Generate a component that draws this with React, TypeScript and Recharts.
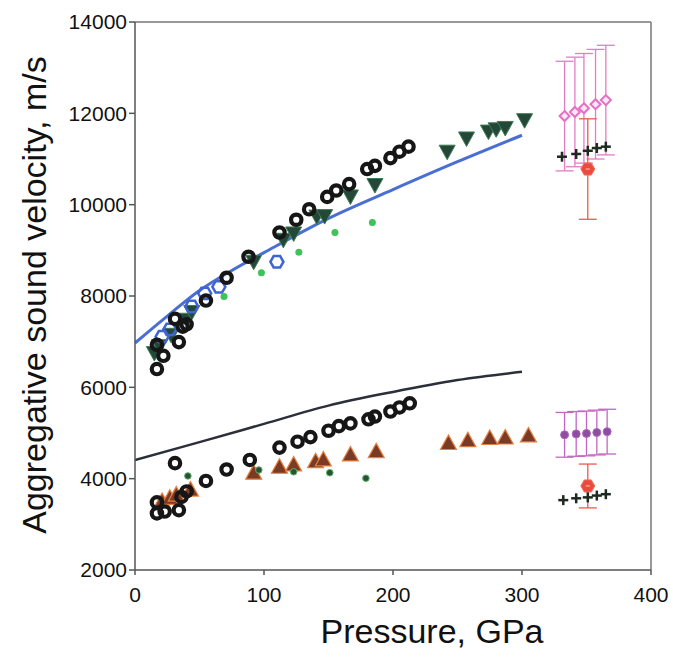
import React from 'react';
import { ComposedChart, Scatter, Line, XAxis, YAxis, ErrorBar, ReferenceLine } from 'recharts';

type Pt = [number, number];

// Pressure (GPa), velocity (m/s)
const upperRings: Pt[] = [[17,6400],[22,6690],[17,6930],[34,6990],[40,7380],[31,7500],[37,7330],[55,7900],[71,8400],[88,8860],[112,9390],[125,9670],[135,9900],[149,10170],[156,10310],[166,10450],[180,10780],[186,10850],[198,11020],[205,11160],[212,11270]];
const lowerRings: Pt[] = [[17,3240],[23,3280],[17,3480],[34,3310],[36,3600],[40,3720],[31,4340],[55,3950],[71,4200],[89,4410],[112,4680],[126,4810],[136,4910],[150,5050],[158,5150],[167,5210],[181,5300],[186,5360],[198,5470],[205,5560],[213,5650]];
const greenTriangles: Pt[] = [[15,6750],[19,6900],[28,7150],[40,7480],[44,7650],[92,8750],[115,9230],[123,9370],[141,9740],[147,9750],[167,10180],[186,10430],[242,11160],[257,11450],[274,11600],[280,11650],[287,11680],[302,11850]];
const blueHexagons: Pt[] = [[21,7110],[27,7270],[44,7770],[54,8060],[65,8200],[110,8750]];
const greenDots: Pt[] = [[69,7990],[98,8510],[127,8960],[155,9390],[184,9610]];
const darkDots: Pt[] = [[41,4060],[96,4190],[123,4150],[151,4130],[179,4010]];
const brownTriangles: Pt[] = [[21,3500],[27,3570],[32,3640],[43,3750],[92,4120],[112,4250],[123,4300],[140,4370],[146,4410],[167,4520],[187,4590],[243,4770],[258,4830],[275,4880],[287,4890],[305,4935]];
const pinkDiamonds: Pt[] = [[333,11940],[341,12030],[348,12110],[357,12200],[365,12290]];
const pinkErr = 1200;
const upperPlus: Pt[] = [[331,11050],[342,11110],[351,11180],[358,11240],[365,11270]];
const upperRed: Pt[] = [[351,10780]];
const upperRedErr = 1100;
const purpleDots: Pt[] = [[333,4960],[342,4980],[350,4990],[358,5010],[366,5030]];
const purpleErr = 490;
const lowerRed: Pt[] = [[351,3840]];
const lowerRedErr = 480;
const lowerPlus: Pt[] = [[332,3530],[342,3570],[351,3590],[358,3630],[365,3660]];
const upperCurve: Pt[] = [[0,6970],[25,7560],[50,8120],[75,8560],[100,8950],[150,9700],[200,10330],[250,10940],[300,11520]];
const lowerCurve: Pt[] = [[0,4410],[50,4800],[100,5200],[150,5600],[200,5900],[250,6160],[300,6340]];

const xTicks = [0, 100, 200, 300, 400];
const yTicks = [2000, 4000, 6000, 8000, 10000, 12000, 14000];

const toData = (pts: Pt[], err?: number) => pts.map(([p, v]) => (err === undefined ? { p, v } : { p, v, err }));

const FONT = '"Liberation Sans", Arial, sans-serif';

const Ring = (props: any) => (
  <circle cx={props.cx} cy={props.cy} r={5.2} fill="none" stroke="#161616" strokeWidth={4.2} />
);
const DownTri = (props: any) => {
  const { cx, cy } = props;
  return <path d={`M${cx - 8},${cy - 6.5} L${cx + 8},${cy - 6.5} L${cx},${cy + 8} Z`} fill="#24473a" stroke="#3d7d52" strokeWidth={1} />;
};
const UpTri = (props: any) => {
  const { cx, cy } = props;
  return <path d={`M${cx - 8},${cy + 6} L${cx + 8},${cy + 6} L${cx},${cy - 8.5} Z`} fill="#7a3a24" stroke="#e58040" strokeWidth={1.2} />;
};
const hexPath = (cx: number, cy: number, r: number) => {
  const pts: string[] = [];
  for (let i = 0; i < 6; i++) {
    const a = (Math.PI / 3) * i;
    pts.push(`${cx + r * Math.cos(a)},${cy + r * Math.sin(a)}`);
  }
  return `M${pts.join(' L')} Z`;
};
const BlueHex = (props: any) => (
  <path d={hexPath(props.cx, props.cy, 6.5)} fill="none" stroke="#3e64d6" strokeWidth={2.5} />
);
const RedHex = (props: any) => (
  <g>
    <path d={hexPath(props.cx, props.cy, 7)} fill="#ec4a3c" stroke="#f07060" strokeWidth={1} />
    <line x1={props.cx - 2} y1={props.cy} x2={props.cx + 2} y2={props.cy} stroke="#ffd0c8" strokeWidth={1} />
  </g>
);
const GreenDot = (props: any) => <circle cx={props.cx} cy={props.cy} r={3.5} fill="#3ec25a" />;
const DarkDot = (props: any) => <circle cx={props.cx} cy={props.cy} r={3.3} fill="#2d4f38" stroke="#5bb565" strokeWidth={1} />;
const Diamond = (props: any) => {
  const { cx, cy } = props;
  return <path d={`M${cx},${cy - 5} L${cx + 5},${cy} L${cx},${cy + 5} L${cx - 5},${cy} Z`} fill="#fbe6f4" stroke="#e46fc4" strokeWidth={2} />;
};
const PurpleDot = (props: any) => <circle cx={props.cx} cy={props.cy} r={4} fill="#8c4f9e" stroke="#b466c8" strokeWidth={1} />;
const Plus = (props: any) => {
  const { cx, cy } = props;
  return (
    <g stroke="#1d2a20" strokeWidth={2.5}>
      <line x1={cx - 5} y1={cy} x2={cx + 5} y2={cy} />
      <line x1={cx} y1={cy - 5} x2={cx} y2={cy + 5} />
    </g>
  );
};

const YLabel = () => (
  <text x={34} y={295} transform="rotate(-90 34 295)" textAnchor="middle" dominantBaseline="central" fontSize={34} fontFamily={FONT} fill="#111">
    Aggregative sound velocity, m/s
  </text>
);
const XLabel = () => (
  <text x={432} y={631} textAnchor="middle" dominantBaseline="central" fontSize={34} fontFamily={FONT} fill="#111">
    Pressure, GPa
  </text>
);

export default function App() {
  return (
    <div style={{ position: 'absolute', left: 0, top: 0, background: '#fff' }}>
      <ComposedChart width={673} height={657} margin={{ top: 22, right: 22, bottom: 7, left: 0 }}>
        <XAxis
          type="number"
          dataKey="p"
          domain={[0, 400]}
          ticks={xTicks}
          allowDataOverflow
          height={80}
          tickSize={5}
          tickMargin={12}
          stroke="#555"
          strokeWidth={1.5}
          tick={{ fontSize: 21, fontFamily: FONT, fill: '#111' }}
          label={{ content: XLabel }}
        />
        <YAxis
          type="number"
          dataKey="v"
          domain={[2000, 14000]}
          ticks={yTicks}
          allowDataOverflow
          width={135}
          tickSize={6}
          tickMargin={2}
          stroke="#555"
          strokeWidth={1.5}
          tick={{ fontSize: 21, fontFamily: FONT, fill: '#111' }}
          label={{ content: YLabel }}
        />
        <ReferenceLine y={14000} stroke="#777" strokeWidth={1.5} />
        <ReferenceLine x={400} stroke="#777" strokeWidth={1.5} />
        <Line data={toData(upperCurve)} dataKey="v" type="monotone" stroke="#4a6fd4" strokeWidth={3} dot={false} isAnimationActive={false} />
        <Line data={toData(lowerCurve)} dataKey="v" type="monotone" stroke="#2a2f3a" strokeWidth={2.5} dot={false} isAnimationActive={false} />
        <Scatter data={toData(greenTriangles)} dataKey="v" shape={DownTri} isAnimationActive={false} />
        <Scatter data={toData(brownTriangles)} dataKey="v" shape={UpTri} isAnimationActive={false} />
        <Scatter data={toData(blueHexagons)} dataKey="v" shape={BlueHex} isAnimationActive={false} />
        <Scatter data={toData(upperRings)} dataKey="v" shape={Ring} isAnimationActive={false} />
        <Scatter data={toData(lowerRings)} dataKey="v" shape={Ring} isAnimationActive={false} />
        <Scatter data={toData(greenDots)} dataKey="v" shape={GreenDot} isAnimationActive={false} />
        <Scatter data={toData(darkDots)} dataKey="v" shape={DarkDot} isAnimationActive={false} />
        <Scatter data={toData(pinkDiamonds, pinkErr)} dataKey="v" shape={Diamond} isAnimationActive={false}>
          <ErrorBar dataKey="err" direction="y" width={9} stroke="#e47cc4" strokeWidth={1.3} />
        </Scatter>
        <Scatter data={toData(purpleDots, purpleErr)} dataKey="v" shape={PurpleDot} isAnimationActive={false}>
          <ErrorBar dataKey="err" direction="y" width={9} stroke="#c466c0" strokeWidth={1.3} />
        </Scatter>
        <Scatter data={toData(upperRed, upperRedErr)} dataKey="v" shape={RedHex} isAnimationActive={false}>
          <ErrorBar dataKey="err" direction="y" width={9} stroke="#ec5a4c" strokeWidth={1.3} />
        </Scatter>
        <Scatter data={toData(lowerRed, lowerRedErr)} dataKey="v" shape={RedHex} isAnimationActive={false}>
          <ErrorBar dataKey="err" direction="y" width={9} stroke="#ec5a4c" strokeWidth={1.3} />
        </Scatter>
        <Scatter data={toData(upperPlus)} dataKey="v" shape={Plus} isAnimationActive={false} />
        <Scatter data={toData(lowerPlus)} dataKey="v" shape={Plus} isAnimationActive={false} />
      </ComposedChart>
    </div>
  );
}
